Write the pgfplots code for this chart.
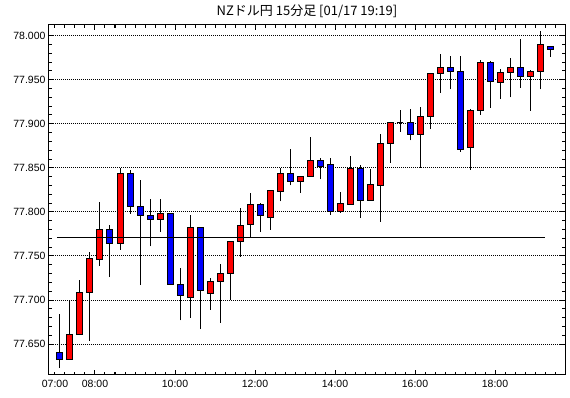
\documentclass[border=0pt]{standalone}
\usepackage{pgfplots}
\pgfplotsset{compat=1.18}
\usepackage{pgfplotstable}
\usepackage{fontspec}
\setmainfont{Liberation Sans}
\newfontfamily\jp{Noto Sans CJK JP}
\definecolor{cred}{RGB}{255,0,0}
\definecolor{cblue}{RGB}{0,0,255}

% 15-minute candles, index 0 = 07:00
\pgfplotstableread{
i o h l c
0 77.641 77.684 77.623 77.633
1 77.633 77.700 77.633 77.661
2 77.661 77.723 77.661 77.709
3 77.709 77.755 77.654 77.747
4 77.746 77.811 77.739 77.780
5 77.780 77.785 77.726 77.764
6 77.764 77.850 77.757 77.843
7 77.843 77.848 77.798 77.806
8 77.806 77.836 77.717 77.796
9 77.796 77.815 77.761 77.791
10 77.791 77.815 77.777 77.798
11 77.798 77.799 77.717 77.718
12 77.718 77.736 77.677 77.705
13 77.703 77.797 77.680 77.782
14 77.782 77.783 77.667 77.711
15 77.708 77.725 77.689 77.721
16 77.721 77.741 77.674 77.730
17 77.730 77.766 77.700 77.766
18 77.766 77.804 77.749 77.785
19 77.786 77.822 77.771 77.808
20 77.808 77.810 77.777 77.796
21 77.794 77.825 77.780 77.824
22 77.823 77.850 77.812 77.844
23 77.844 77.871 77.830 77.834
24 77.834 77.840 77.822 77.840
25 77.840 77.885 77.840 77.858
26 77.858 77.861 77.837 77.852
27 77.854 77.861 77.797 77.801
28 77.801 77.823 77.799 77.809
29 77.808 77.863 77.808 77.849
30 77.849 77.853 77.793 77.813
31 77.813 77.849 77.813 77.831
32 77.830 77.888 77.789 77.878
33 77.878 77.902 77.856 77.901
34 77.901 77.916 77.891 77.901
35 77.901 77.917 77.881 77.888
36 77.888 77.919 77.850 77.908
37 77.908 77.957 77.894 77.957
38 77.957 77.979 77.935 77.964
39 77.964 77.977 77.939 77.959
40 77.959 77.977 77.868 77.871
41 77.873 77.917 77.848 77.915
42 77.915 77.972 77.910 77.969
43 77.969 77.971 77.918 77.948
44 77.947 77.962 77.928 77.958
45 77.958 77.975 77.930 77.964
46 77.964 77.996 77.941 77.954
47 77.954 77.961 77.915 77.959
48 77.959 78.005 77.939 77.990
49 77.988 77.988 77.976 77.984
}\candles

\begin{document}
\begin{tikzpicture}
\begin{axis}[
  name=ax,
  width=516pt, height=350pt, scale only axis,
  xmin=-0.6, xmax=51, ymin=77.615, ymax=78.012,
  xtick={4,12,20,28,36,44},
  xticklabels={08:00,10:00,12:00,14:00,16:00,18:00},
  extra x ticks={0}, extra x tick labels={07:00},
  extra x tick style={major tick length=3pt},
  minor xtick={0,1,...,51},
  ytick={77.65,77.70,77.75,77.80,77.85,77.90,77.95,78.00},
  minor y tick num=4,
  yticklabel style={/pgf/number format/.cd, fixed, fixed zerofill, precision=3, assume math mode=true},
  xticklabel style={yshift=-2pt},
  ymajorgrids,
  major grid style={black, line width=1pt, densely dotted},
  axis line style={black, line width=1pt},
  every tick/.style={black, line width=1pt},
  major tick length=5pt, minor tick length=3pt,
  tick label style={font=\fontsize{10.5}{12}\selectfont},
  title={NZドル円 15分足 [01/17 19:19]},
  title style={font=\jp\fontsize{13}{15}\selectfont, yshift=-2pt},
]
\pgfplotsforeachungrouped \k in {0,...,49}{%
  \pgfplotstablegetelem{\k}{o}\of\candles \let\O\pgfplotsretval
  \pgfplotstablegetelem{\k}{h}\of\candles \let\H\pgfplotsretval
  \pgfplotstablegetelem{\k}{l}\of\candles \let\L\pgfplotsretval
  \pgfplotstablegetelem{\k}{c}\of\candles \let\C\pgfplotsretval
  \ifdim\C pt<\O pt \def\col{cblue}\let\lo\C\let\hi\O
  \else \def\col{cred}\let\lo\O\let\hi\C\fi
  \edef\temp{%
    \noexpand\addplot[black, line width=1pt] coordinates {(\k.5,\L) (\k.5,\H)};
    \noexpand\addplot[draw=black, line width=1pt, fill=\col]
      coordinates {(\k.2,\lo) (\k.8,\lo) (\k.8,\hi) (\k.2,\hi)} -- cycle;}%
  \temp
}
\addplot[black, line width=1pt] coordinates {(0.2,77.7705) (49,77.7705)};
\end{axis}
\pgfresetboundingbox
\path ([shift={(-49pt,-23pt)}]ax.south west) rectangle ([shift={(5pt,25pt)}]ax.north east);
\end{tikzpicture}
\end{document}
